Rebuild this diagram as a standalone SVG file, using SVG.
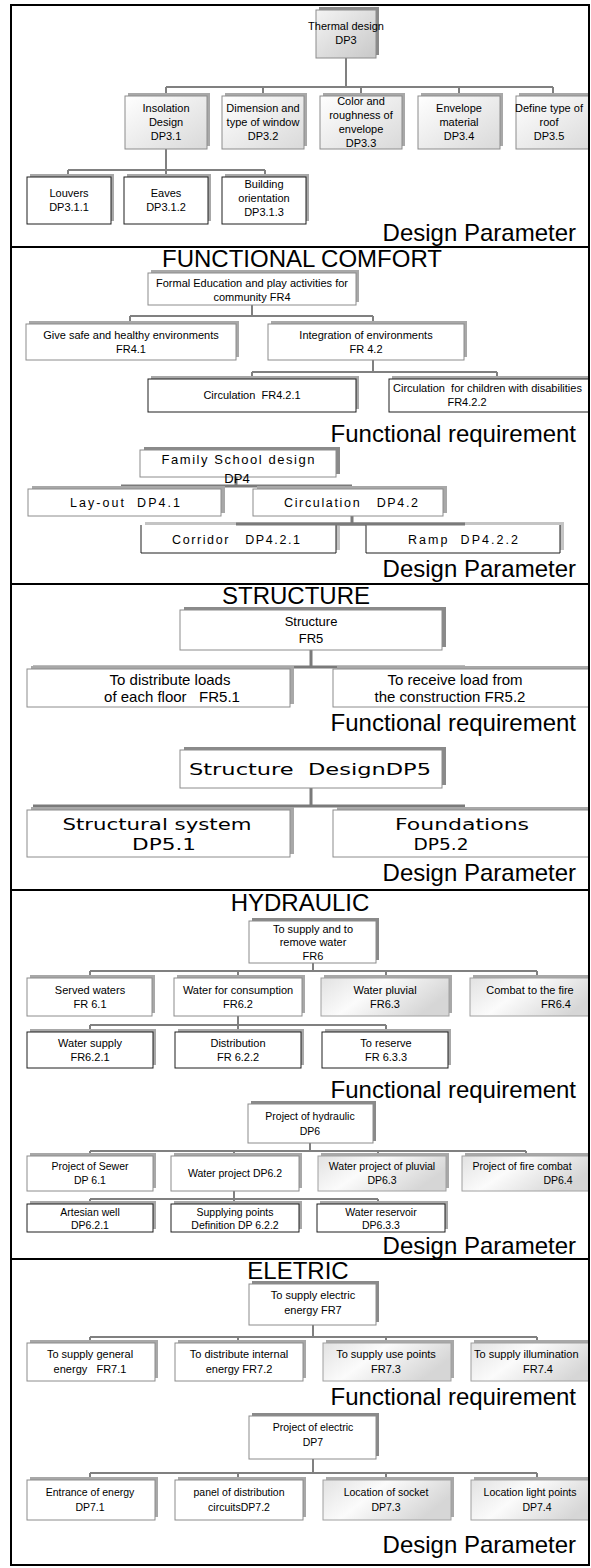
<svg xmlns="http://www.w3.org/2000/svg" width="591" height="1568" viewBox="0 0 591 1568">
<style>
text{font-family:"Liberation Sans",Arial,sans-serif;fill:#000;white-space:pre}
.t{font-size:11px;text-anchor:middle}
.ts{font-size:11px;text-anchor:start}
.v{font-family:"DejaVu Sans",Verdana,sans-serif;text-anchor:middle}
.a{text-anchor:middle;font-size:12.5px}
.big{font-size:24px;text-anchor:middle}
.lab{font-size:24px;text-anchor:end}
.sh{fill:#a8a8a8}
.sh2{fill:#c4c4c4}
.shd{fill:#8a8a8a}
.bx{fill:#fff;stroke:#8c8c8c;stroke-width:1}
.bk{fill:#fff;stroke:#1e1e1e;stroke-width:1}
.gr{fill:url(#g1);stroke:#8c8c8c;stroke-width:1}
.gt{fill:url(#g0);stroke:#8c8c8c;stroke-width:1}
.gs{fill:url(#g2);stroke:#a0a0a0;stroke-width:1}
.wf{fill:#fff}
.open{fill:none;stroke:#1e1e1e;stroke-width:1}
.cn{stroke:#808080;stroke-width:2;fill:none}
.ck{stroke:#7a7a7a;stroke-width:3;fill:none}
.frame{fill:none;stroke:#000;stroke-width:2}
</style>
<defs>
<linearGradient id="g0" x1="0" y1="0" x2="1" y2="1"><stop offset="0" stop-color="#f4f4f4"/><stop offset="1" stop-color="#c8c8c8"/></linearGradient>
<linearGradient id="g1" x1="0" y1="0" x2="1" y2="1"><stop offset="0" stop-color="#ffffff"/><stop offset="1" stop-color="#d9d9d9"/></linearGradient>
<linearGradient id="g2" x1="0" y1="0" x2="1" y2="0.4"><stop offset="0" stop-color="#e2e2e2"/><stop offset="0.45" stop-color="#fbfbfb"/><stop offset="1" stop-color="#d6d6d6"/></linearGradient>
<clipPath id="clip"><rect x="11" y="5" width="577" height="1560"/></clipPath>
</defs>
<rect x="0" y="0" width="591" height="1568" fill="#fff"/>
<g clip-path="url(#clip)">
<g id="connectors">
<path class="cn" d="M346 58V87M166 87H553M166 87V96M263 87V96M361 87V96M459 87V96M553 87V96"/>
<path class="cn" d="M166 149V170M68 170H265M68 170V177M166 170V177M265 170V177"/>
<path class="cn" d="M252 305V316M130 316H373M130 316V324M373 316V324"/>
<path class="cn" d="M373 360V372M252 372H497M252 372V379M497 372V379"/>
<path class="ck" d="M236 477V486M121 486H352"/>
<path class="ck" d="M352 516V524M236 524H465"/>
<path class="ck" d="M311 650V667M33 667H465"/>
<path class="ck" d="M311 788V806M33 806H465"/>
<path class="cn" d="M313 963V971M90 971H537M90 971V978M238 971V978M386 971V978M537 971V978"/>
<path class="cn" d="M238 1016V1025M90 1025H386M90 1025V1032M238 1025V1032M386 1025V1032"/>
<path class="cn" d="M310 1143V1151M90 1151H526M90 1151V1156M234 1151V1156M378 1151V1156M526 1151V1156"/>
<path class="cn" d="M234 1191V1199M90 1199H378M90 1199V1204M234 1199V1204M378 1199V1204"/>
<path class="cn" d="M313 1325V1337M90 1337H537M90 1337V1343M238 1337V1343M386 1337V1343M537 1337V1343"/>
<path class="cn" d="M313 1459V1473M90 1473H537M90 1473V1480M238 1473V1480M386 1473V1480M537 1473V1480"/>
</g>

<!-- Section 1 -->
<g id="dp3"><rect class="shd" x="319" y="7" width="60" height="48"/><rect class="gt" x="316" y="10" width="60" height="48"/><text class="t" x="346" y="30">Thermal design</text><text class="t" x="346" y="44">DP3</text></g>
<g id="dp3_1"><rect class="sh" x="128" y="93" width="82" height="53"/><rect class="gr" x="125" y="96" width="82" height="53"/><text class="t" x="166" y="112">Insolation</text><text class="t" x="166" y="126">Design</text><text class="t" x="166" y="140">DP3.1</text></g>
<g id="dp3_2"><rect class="sh" x="225" y="93" width="82" height="53"/><rect class="gr" x="222" y="96" width="82" height="53"/><text class="t" x="263" y="112">Dimension and</text><text class="t" x="263" y="126">type of window</text><text class="t" x="263" y="140">DP3.2</text></g>
<g id="dp3_3"><rect class="sh" x="323" y="93" width="82" height="53"/><rect class="gr" x="320" y="96" width="82" height="53"/><text class="t" x="361" y="105">Color and</text><text class="t" x="361" y="119">roughness of</text><text class="t" x="361" y="133">envelope</text><text class="t" x="361" y="147">DP3.3</text></g>
<g id="dp3_4"><rect class="sh" x="421" y="93" width="82" height="53"/><rect class="gr" x="418" y="96" width="82" height="53"/><text class="t" x="459" y="112">Envelope</text><text class="t" x="459" y="126">material</text><text class="t" x="459" y="140">DP3.4</text></g>
<g id="dp3_5"><rect class="sh" x="519" y="93" width="82" height="53"/><rect class="gr" x="516" y="96" width="82" height="53"/><text class="t" x="549" y="112">Define type of</text><text class="t" x="549" y="126">roof</text><text class="t" x="549" y="140">DP3.5</text></g>
<g id="dp3_1_1"><rect class="sh" x="30" y="174" width="84" height="47"/><rect class="bk" x="27" y="177" width="84" height="47"/><text class="t" x="69" y="197">Louvers</text><text class="t" x="69" y="211">DP3.1.1</text></g>
<g id="dp3_1_2"><rect class="sh" x="127" y="174" width="84" height="47"/><rect class="bk" x="124" y="177" width="84" height="47"/><text class="t" x="166" y="197">Eaves</text><text class="t" x="166" y="211">DP3.1.2</text></g>
<g id="dp3_1_3"><rect class="sh" x="225" y="174" width="84" height="47"/><rect class="bk" x="222" y="177" width="84" height="47"/><text class="t" x="264" y="188">Building</text><text class="t" x="264" y="202">orientation</text><text class="t" x="264" y="216">DP3.1.3</text></g>
<text class="lab" x="576" y="241">Design Parameter</text>

<!-- Section 2 -->
<text class="big" x="302" y="267">FUNCTIONAL COMFORT</text>
<g id="fr4"><rect class="sh" x="151" y="270" width="208" height="32"/><rect class="bx" x="148" y="273" width="208" height="32"/><text class="t" x="252" y="287">Formal Education and play activities for</text><text class="t" x="252" y="301">community FR4</text></g>
<g id="fr4_1"><rect class="sh" x="29" y="321" width="210" height="36"/><rect class="bx" x="26" y="324" width="210" height="36"/><text class="t" x="131" y="339">Give safe and healthy environments</text><text class="t" x="131" y="353">FR4.1</text></g>
<g id="fr4_2"><rect class="sh" x="271" y="321" width="196" height="36"/><rect class="bx" x="268" y="324" width="196" height="36"/><text class="t" x="366" y="339">Integration of environments</text><text class="t" x="366" y="353">FR 4.2</text></g>
<g id="fr4_2_1"><rect class="sh" x="151" y="376" width="208" height="33"/><rect class="bk" x="148" y="379" width="208" height="33"/><text class="t" x="252" y="399">Circulation  FR4.2.1</text></g>
<g id="fr4_2_2"><rect class="sh" x="392" y="376" width="210" height="33"/><rect class="bk" x="389" y="379" width="210" height="33"/><text class="ts" x="393" y="392">Circulation  for children with disabilities</text><text class="t" x="467" y="406">FR4.2.2</text></g>
<text class="lab" x="576" y="442">Functional requirement</text>
<g id="dp4"><rect class="shd" x="144" y="447" width="196" height="27"/><rect class="bx" x="140" y="450" width="196" height="27"/><text class="a" style="font-size:13px" x="238" y="464" textLength="153" lengthAdjust="spacing">Family School design</text><text class="a" style="font-size:13px" x="237" y="483">DP4</text></g>
<g id="dp4_1"><rect class="sh" x="32" y="486" width="193" height="27"/><rect class="bx" x="28" y="489" width="193" height="27"/><text class="a" x="125" y="507" textLength="110" lengthAdjust="spacing">Lay-out  DP4.1</text></g>
<g id="dp4_2"><rect class="sh" x="257" y="486" width="190" height="27"/><rect class="bx" x="253" y="489" width="190" height="27"/><text class="a" x="351" y="507" textLength="134" lengthAdjust="spacing">Circulation   DP4.2</text></g>
<g id="dp4_2_1"><rect class="sh2" x="145" y="522" width="195" height="28"/><rect class="wf" x="141" y="525" width="195" height="28"/><path class="open" d="M141 525V553H336V525"/><text class="a" x="236" y="544" textLength="128" lengthAdjust="spacing">Corridor   DP4.2.1</text></g>
<g id="dp4_2_2"><rect class="sh2" x="370" y="522" width="194" height="28"/><rect class="wf" x="366" y="525" width="194" height="28"/><path class="open" d="M366 525V553H560V525"/><text class="a" x="463" y="544" textLength="110" lengthAdjust="spacing">Ramp  DP4.2.2</text></g>
<path class="ck" d="M236 524H465"/>
<text class="lab" x="576" y="577">Design Parameter</text>

<!-- Section 3 -->
<text class="big" x="296" y="604">STRUCTURE</text>
<g id="fr5"><rect class="shd" x="184" y="607" width="262" height="40"/><rect class="bx" x="180" y="610" width="262" height="40"/><text class="t" style="font-size:13px" x="311" y="626">Structure</text><text class="t" style="font-size:13px" x="311" y="643">FR5</text></g>
<g id="fr5_1"><rect class="sh" x="31" y="666" width="263" height="38"/><rect class="bx" x="27" y="669" width="263" height="38"/><text class="t" style="font-size:15px" x="170" y="685">To distribute loads</text><text class="t" style="font-size:15px" x="172" y="702">of each floor   FR5.1</text></g>
<g id="fr5_2"><rect class="sh" x="337" y="666" width="262" height="38"/><rect class="bx" x="333" y="669" width="262" height="38"/><text class="t" style="font-size:15px" x="455" y="685">To receive load from</text><text class="t" style="font-size:15px" x="450" y="702">the construction FR5.2</text></g>
<text class="lab" x="576" y="731">Functional requirement</text>
<g id="dp5"><rect class="shd" x="184" y="747" width="262" height="38"/><rect class="bx" x="180" y="750" width="262" height="38"/><text class="v" style="font-size:15px" x="310" y="775" textLength="242" lengthAdjust="spacingAndGlyphs">Structure  DesignDP5</text></g>
<g id="dp5_1"><rect class="sh" x="31" y="807" width="263" height="47"/><rect class="bx" x="27" y="810" width="263" height="47"/><text class="v" style="font-size:16px" x="157" y="830" textLength="189" lengthAdjust="spacingAndGlyphs">Structural system</text><text class="v" style="font-size:16px" x="164" y="850" textLength="64" lengthAdjust="spacingAndGlyphs">DP5.1</text></g>
<g id="dp5_2"><rect class="sh" x="337" y="807" width="262" height="47"/><rect class="bx" x="333" y="810" width="262" height="47"/><text class="v" style="font-size:16px" x="462" y="830" textLength="134" lengthAdjust="spacingAndGlyphs">Foundations</text><text class="v" style="font-size:16px" x="441" y="850" textLength="55" lengthAdjust="spacingAndGlyphs">DP5.2</text></g>
<text class="lab" x="576" y="881">Design Parameter</text>

<!-- Section 4 -->
<text class="big" x="300" y="911">HYDRAULIC</text>
<g id="fr6"><rect class="shd" x="252" y="918" width="127" height="42"/><rect class="bx" x="249" y="921" width="127" height="42"/><text class="t" x="313" y="933">To supply and to</text><text class="t" x="313" y="946">remove water</text><text class="t" x="313" y="960">FR6</text></g>
<g id="fr6_1"><rect class="sh" x="30" y="975" width="125" height="38"/><rect class="bx" x="27" y="978" width="125" height="38"/><text class="t" x="90" y="994">Served waters</text><text class="t" x="90" y="1008">FR 6.1</text></g>
<g id="fr6_2"><rect class="sh" x="177" y="975" width="128" height="38"/><rect class="bx" x="174" y="978" width="128" height="38"/><text class="t" x="238" y="994">Water for consumption</text><text class="t" x="238" y="1008">FR6.2</text></g>
<g id="fr6_3"><rect class="sh" x="324" y="975" width="128" height="38"/><rect class="gs" x="321" y="978" width="128" height="38"/><text class="t" x="385" y="994">Water pluvial</text><text class="t" x="385" y="1008">FR6.3</text></g>
<g id="fr6_4"><rect class="sh" x="473" y="975" width="128" height="38"/><rect class="gs" x="470" y="978" width="128" height="38"/><text class="t" x="530" y="994">Combat to the fire</text><text class="t" x="556" y="1008">FR6.4</text></g>
<g id="fr6_2_1"><rect class="sh" x="30" y="1029" width="126" height="36"/><rect class="bk" x="27" y="1032" width="126" height="36"/><text class="t" x="90" y="1047">Water supply</text><text class="t" x="90" y="1061">FR6.2.1</text></g>
<g id="fr6_2_2"><rect class="sh" x="178" y="1029" width="126" height="36"/><rect class="bk" x="175" y="1032" width="126" height="36"/><text class="t" x="238" y="1047">Distribution</text><text class="t" x="238" y="1061">FR 6.2.2</text></g>
<g id="fr6_2_3"><rect class="sh" x="325" y="1029" width="126" height="36"/><rect class="bk" x="322" y="1032" width="126" height="36"/><text class="t" x="386" y="1047">To reserve</text><text class="t" x="386" y="1061">FR 6.3.3</text></g>
<text class="lab" x="576" y="1098">Functional requirement</text>
<g id="dp6"><rect class="shd" x="251" y="1101" width="125" height="40"/><rect class="bx" x="248" y="1104" width="125" height="39"/><text class="t" style="font-size:10.5px" x="310" y="1120">Project of hydraulic</text><text class="t" style="font-size:10.5px" x="310" y="1135">DP6</text></g>
<g id="dp6_1"><rect class="sh" x="30" y="1153" width="126" height="35"/><rect class="bx" x="27" y="1156" width="126" height="35"/><text class="t" style="font-size:10.5px" x="90" y="1170">Project of Sewer</text><text class="t" style="font-size:10.5px" x="90" y="1184">DP 6.1</text></g>
<g id="dp6_2"><rect class="sh" x="174" y="1153" width="128" height="35"/><rect class="bx" x="171" y="1156" width="128" height="35"/><text class="t" style="font-size:10.5px" x="235" y="1177">Water project DP6.2</text></g>
<g id="dp6_3"><rect class="sh" x="321" y="1153" width="128" height="35"/><rect class="gs" x="318" y="1156" width="128" height="35"/><text class="t" style="font-size:10.5px" x="382" y="1170">Water project of pluvial</text><text class="t" style="font-size:10.5px" x="382" y="1184">DP6.3</text></g>
<g id="dp6_4"><rect class="sh" x="465" y="1153" width="130" height="35"/><rect class="gs" x="462" y="1156" width="130" height="35"/><text class="t" style="font-size:10.5px" x="522" y="1170">Project of fire combat</text><text class="t" style="font-size:10.5px" x="558" y="1184">DP6.4</text></g>
<g id="dp6_2_1"><rect class="sh" x="30" y="1201" width="126" height="28"/><rect class="bk" x="27" y="1204" width="126" height="28"/><text class="t" style="font-size:10.5px" x="90" y="1216">Artesian well</text><text class="t" style="font-size:10.5px" x="90" y="1229">DP6.2.1</text></g>
<g id="dp6_2_2"><rect class="sh" x="174" y="1201" width="128" height="28"/><rect class="bk" x="171" y="1204" width="128" height="28"/><text class="t" style="font-size:10.5px" x="235" y="1216">Supplying points</text><text class="t" style="font-size:10.5px" x="235" y="1229">Definition DP 6.2.2</text></g>
<g id="dp6_2_3"><rect class="sh" x="320" y="1201" width="128" height="28"/><rect class="bk" x="317" y="1204" width="128" height="28"/><text class="t" style="font-size:10.5px" x="381" y="1216">Water reservoir</text><text class="t" style="font-size:10.5px" x="381" y="1229">DP6.3.3</text></g>
<text class="lab" x="576" y="1254">Design Parameter</text>

<!-- Section 5 -->
<text class="big" x="298" y="1279">ELETRIC</text>
<g id="fr7"><rect class="shd" x="252" y="1281" width="127" height="41"/><rect class="bx" x="249" y="1284" width="127" height="41"/><text class="t" x="313" y="1299">To supply electric</text><text class="t" x="313" y="1314">energy FR7</text></g>
<g id="fr7_1"><rect class="sh" x="30" y="1340" width="128" height="38"/><rect class="bx" x="27" y="1343" width="128" height="38"/><text class="t" x="90" y="1358">To supply general</text><text class="t" x="90" y="1373">energy   FR7.1</text></g>
<g id="fr7_2"><rect class="sh" x="178" y="1340" width="128" height="38"/><rect class="bx" x="175" y="1343" width="128" height="38"/><text class="t" x="239" y="1358">To distribute internal</text><text class="t" x="239" y="1373">energy FR7.2</text></g>
<g id="fr7_3"><rect class="sh" x="326" y="1340" width="128" height="38"/><rect class="gs" x="323" y="1343" width="128" height="38"/><text class="t" x="386" y="1358">To supply use points</text><text class="t" x="386" y="1373">FR7.3</text></g>
<g id="fr7_4"><rect class="sh" x="474" y="1340" width="128" height="38"/><rect class="gs" x="471" y="1343" width="128" height="38"/><text class="ts" x="474" y="1358">To supply illumination</text><text class="t" x="538" y="1373">FR7.4</text></g>
<text class="lab" x="576" y="1405">Functional requirement</text>
<g id="dp7"><rect class="shd" x="252" y="1413" width="127" height="43"/><rect class="bx" x="249" y="1416" width="127" height="43"/><text class="t" style="font-size:10.5px" x="313" y="1431">Project of electric</text><text class="t" style="font-size:10.5px" x="313" y="1446">DP7</text></g>
<g id="dp7_1"><rect class="sh" x="30" y="1477" width="128" height="40"/><rect class="bx" x="27" y="1480" width="128" height="40"/><text class="t" style="font-size:10.5px" x="90" y="1496">Entrance of energy</text><text class="t" style="font-size:10.5px" x="90" y="1511">DP7.1</text></g>
<g id="dp7_2"><rect class="sh" x="178" y="1477" width="128" height="40"/><rect class="bx" x="175" y="1480" width="128" height="40"/><text class="t" style="font-size:10.5px" x="239" y="1496">panel of distribution</text><text class="t" style="font-size:10.5px" x="239" y="1511">circuitsDP7.2</text></g>
<g id="dp7_3"><rect class="sh" x="326" y="1477" width="128" height="40"/><rect class="gs" x="323" y="1480" width="128" height="40"/><text class="t" style="font-size:10.5px" x="386" y="1496">Location of socket</text><text class="t" style="font-size:10.5px" x="386" y="1511">DP7.3</text></g>
<g id="dp7_4"><rect class="sh" x="474" y="1477" width="128" height="40"/><rect class="gs" x="471" y="1480" width="128" height="40"/><text class="t" style="font-size:10.5px" x="530" y="1496">Location light points</text><text class="t" style="font-size:10.5px" x="537" y="1511">DP7.4</text></g>
<text class="lab" x="576" y="1553">Design Parameter</text>
</g>
<g id="frame">
<rect class="frame" x="11" y="5" width="578" height="1560"/>
<path class="frame" d="M11 247H589M11 584H589M11 890H589M11 1259H589"/>
</g>
</svg>
